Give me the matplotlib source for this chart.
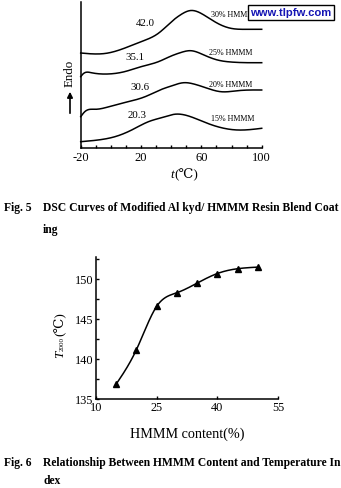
import numpy as np
import matplotlib
matplotlib.use("Agg")
import matplotlib.pyplot as plt
from matplotlib.patches import FancyArrowPatch

plt.rcParams['font.family'] = ['Liberation Serif', 'DejaVu Serif']

# ---- Fig. 5: DSC curves (heat flow in arbitrary units, offset per blend) ----
t15 = [-20, -8.5, 2.7, 13.8, 24.9, 36, 42, 52.9, 64, 75, 84, 100]
v15 = [6.3, 8.0, 11.3, 18.0, 26.3, 31.3, 33.7, 31.3, 24.7, 19.7, 18.0, 19.7]

t20 = [-20, -17.3, -10.7, 0.4, 11.5, 22.7, 33.7, 40, 48.4, 55, 64, 72.9, 84, 100]
v20 = [31.3, 36.3, 38.7, 42.0, 46.3, 51.3, 58.7, 62.0, 65.3, 64.0, 59.7, 56.3, 57.3, 58.0]

t25 = [-20, -18.5, -13, -2, 9, 20, 31.5, 40, 46, 53, 61.7, 70.7, 79.5, 100]
v25 = [71.3, 74.0, 75.3, 74.0, 76.3, 81.3, 86.3, 92.0, 95.3, 97.3, 93.0, 88.0, 86.0, 85.3]

t30 = [-20, -3, 7, 20, 31.5, 41.5, 46, 53, 61.7, 70.7, 79.5, 90.7, 100]
v30 = [95.0, 94.7, 98.7, 106.3, 114.7, 128.0, 133.0, 137.5, 133.0, 124.7, 119.7, 118.7, 118.7]

blend_names = ["15% HMMM", "20% HMMM", "25% HMMM", "30% HMMM"]
onset_temps = ["20.3", "30.6", "35.1", "42.0"]

# ---- Fig. 6: temperature index vs HMMM content ----
hmmm_content = [15, 20, 25, 30, 35, 40, 45, 50]
t_index = [136.9, 141.2, 146.6, 148.3, 149.5, 150.7, 151.3, 151.5]


def spline(x, y, xs):
    """Natural cubic spline used to draw smooth curves through the readings."""
    x = np.asarray(x, float)
    y = np.asarray(y, float)
    n = len(x)
    h = np.diff(x)
    A = np.zeros((n, n))
    r = np.zeros(n)
    A[0, 0] = A[-1, -1] = 1.0
    for i in range(1, n - 1):
        A[i, i - 1] = h[i - 1]
        A[i, i] = 2 * (h[i - 1] + h[i])
        A[i, i + 1] = h[i]
        r[i] = 3 * ((y[i + 1] - y[i]) / h[i] - (y[i] - y[i - 1]) / h[i - 1])
    c = np.linalg.solve(A, r)
    b = (y[1:] - y[:-1]) / h - h * (2 * c[:-1] + c[1:]) / 3
    d = (c[1:] - c[:-1]) / (3 * h)
    idx = np.clip(np.searchsorted(x, xs) - 1, 0, n - 2)
    dx = xs - x[idx]
    return y[idx] + b[idx] * dx + c[idx] * dx**2 + d[idx] * dx**3


W, H = 341, 488
fig = plt.figure(figsize=(W / 100, H / 100), dpi=100)
fig.patch.set_facecolor('white')


def frac(x0, y0, x1, y1):
    return [x0 / W, 1 - y1 / H, (x1 - x0) / W, (y1 - y0) / H]


lw = 1.1

# ---------------- DSC axes ----------------
ax1 = fig.add_axes(frac(80.7, 2, 261.7, 148))
ax1.set_xlim(-20, 100)
ax1.set_ylim(0, 146)
for sp in ('top', 'right'):
    ax1.spines[sp].set_visible(False)
for sp in ('left', 'bottom'):
    ax1.spines[sp].set_linewidth(lw)
ax1.set_yticks([])
ax1.set_xticks([-20, 20, 60, 100])
ax1.set_xticklabels(['-20', '20', '60', '100'])
ax1.set_xticks(np.arange(-20, 101, 10), minor=True)
ax1.tick_params(axis='x', which='both', direction='in', length=2.5, width=1.0,
                labelsize=9, pad=3)

for tt, vv in [(t15, v15), (t20, v20), (t25, v25), (t30, v30)]:
    xs = np.linspace(tt[0], tt[-1], 400)
    ax1.plot(xs, spline(tt, vv, xs), color='black', lw=lw, clip_on=False)

onset_pos = [(17.5, 32), (19.5, 61), (16.2, 91), (22.9, 125)]
for (x, y), s in zip(onset_pos, onset_temps):
    ax1.text(x, y, s, fontsize=7.8, ha='center', va='center')
name_pos = [(66.2, 29), (65.0, 63), (65.0, 94.7), (66.2, 133)]
for (x, y), s in zip(name_pos, blend_names):
    ax1.text(x, y, s, fontsize=5.8, ha='left', va='center')

fig.text(174 / W, 1 - 175 / H, 't', fontsize=9.5, style='italic', ha='right', va='center')
fig.text(174 / W, 1 - 175 / H, '(℃)', fontsize=9.5, ha='left', va='center')

fig.text(70 / W, 1 - 73 / H, 'Endo', fontsize=9.3, rotation=90, ha='center', va='center')
fig.add_artist(FancyArrowPatch((70 / W, 1 - 116 / H), (70 / W, 1 - 89 / H),
                               transform=fig.transFigure, arrowstyle='-|>',
                               mutation_scale=8, lw=1.2, color='black'))

# watermark box
fig.text(291 / W, 1 - 12.5 / H, 'www.tlpfw.com', fontsize=8.1, fontweight='bold',
         family=['Liberation Sans', 'DejaVu Sans'], color='#1414b4',
         ha='center', va='center',
         bbox=dict(boxstyle='square,pad=0.22', fc='white', ec='black', lw=1.0))

cap_kw = dict(fontsize=8.4, fontweight='bold', ha='left', va='center')
fig.text(4 / W, 1 - 208 / H, 'Fig. 5', **cap_kw)
fig.text(43 / W, 1 - 208 / H, 'DSC Curves of Modified Al kyd/ HMMM Resin Blend Coat', **cap_kw)
fig.text(43 / W, 1 - 230 / H, 'ing', **cap_kw)

# ---------------- Temperature index axes ----------------
ax2 = fig.add_axes(frac(96, 256.7, 278, 399.3))
ax2.set_xlim(10, 55)
ax2.set_ylim(135, 152.8)
for sp in ('top', 'right'):
    ax2.spines[sp].set_visible(False)
for sp in ('left', 'bottom'):
    ax2.spines[sp].set_linewidth(lw)
ax2.set_xticks([10, 25, 40, 55])
ax2.set_yticks([135, 140, 145, 150])
ax2.set_yticks(np.arange(135, 152.6, 2.5), minor=True)
ax2.tick_params(axis='both', which='both', direction='in', length=2.5, width=1.0,
                labelsize=8.8, pad=2)

xs = np.linspace(hmmm_content[0], hmmm_content[-1], 300)
ax2.plot(xs, spline(hmmm_content, t_index, xs), color='black', lw=lw)
ax2.plot(hmmm_content, t_index, linestyle='none', marker='^', ms=4.5,
         color='black', clip_on=False)

ax2.set_xlabel('HMMM content(%)', fontsize=10.2, labelpad=10)

# y label: italic T, small subscript, then the unit
ylx = 60 / W
fig.text(ylx, 1 - 358 / H, 'T', fontsize=9.5, style='italic', rotation=90,
         ha='center', va='bottom')
fig.text(ylx + 2.5 / W, 1 - 351 / H, '2000', fontsize=5.0, rotation=90,
         ha='center', va='bottom')
fig.text(ylx, 1 - 336 / H, '(℃)', fontsize=9.5, rotation=90,
         ha='center', va='bottom')

fig.text(4 / W, 1 - 463 / H, 'Fig. 6', **cap_kw)
fig.text(43 / W, 1 - 463 / H, 'Relationship Between HMMM Content and Temperature In', **cap_kw)
fig.text(43 / W, 1 - 481 / H, 'dex', **cap_kw)

fig.savefig('out.png', dpi=100, facecolor='white')
